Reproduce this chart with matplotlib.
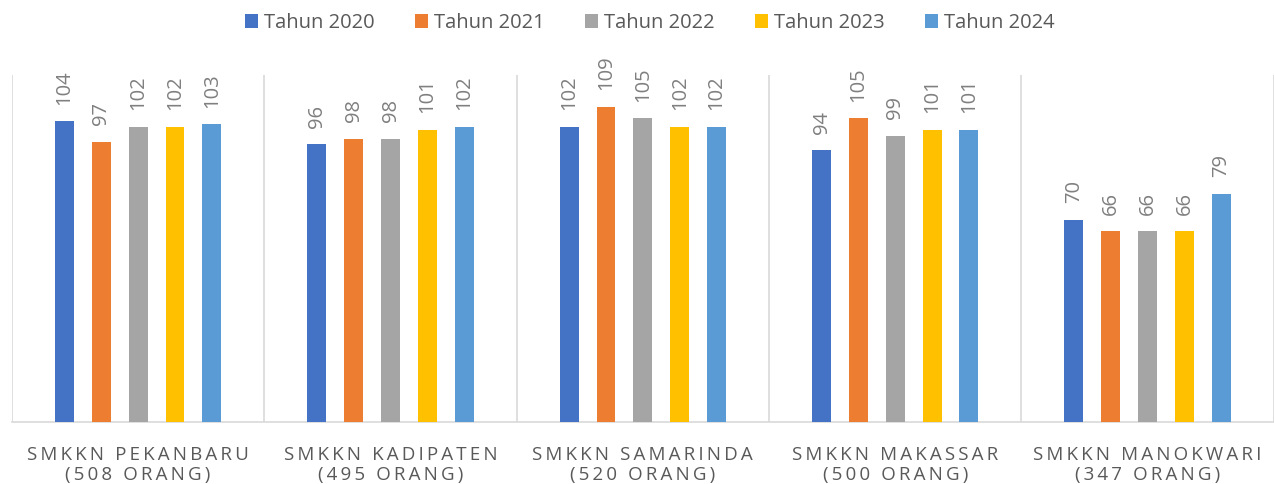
import matplotlib.pyplot as plt
import numpy as np

# data
sekolah = ['SMKKN PEKANBARU\n(508 ORANG)', 'SMKKN KADIPATEN\n(495 ORANG)',
           'SMKKN SAMARINDA\n(520 ORANG)', 'SMKKN MAKASSAR\n(500 ORANG)',
           'SMKKN MANOKWARI\n(347 ORANG)']
tahun = ['Tahun 2020', 'Tahun 2021', 'Tahun 2022', 'Tahun 2023', 'Tahun 2024']
v2020 = [104, 96, 102, 94, 70]
v2021 = [97, 98, 109, 105, 66]
v2022 = [102, 98, 105, 99, 66]
v2023 = [102, 101, 102, 101, 66]
v2024 = [103, 102, 102, 101, 79]
warna = ['#4472c4', '#ed7d31', '#a5a5a5', '#ffc000', '#5b9bd5']

plt.rcParams['font.family'] = ['Open Sans', 'DejaVu Sans']

def spaced(s):
    # wide letter spacing like the original
    return '\n'.join('\u2009'.join(list(line)) for line in s.split('\n'))

fig = plt.figure(figsize=(12.74, 4.84), dpi=100)
ax = fig.add_axes([0.0094, 0.128, 0.9904, 0.717])

x = np.arange(len(sekolah))
semua = [v2020, v2021, v2022, v2023, v2024]
w = 0.075
step = 0.146
for i, vals in enumerate(semua):
    pos = x + (i - 2) * step
    bars = ax.bar(pos, vals, width=w, color=warna[i], label=tahun[i], zorder=3)
    for b, v in zip(bars, vals):
        ax.annotate(str(v), (b.get_x() + b.get_width() / 2, v), xytext=(0, 12),
                    textcoords='offset points', rotation=90, ha='center', va='bottom',
                    fontsize=14.5, color='#7f7f7f')

ax.set_xlim(-0.5, len(sekolah) - 0.5)
ax.set_ylim(0, 120)
ax.set_yticks([])
for k in range(len(sekolah) + 1):
    ax.axvline(k - 0.5, color='#d9d9d9', lw=1.2, zorder=1)
for s in ['top', 'left', 'right']:
    ax.spines[s].set_visible(False)
ax.spines['bottom'].set_color('#d9d9d9')
ax.spines['bottom'].set_linewidth(1.2)
ax.set_xticks(x)
ax.set_xticklabels([spaced(s) for s in sekolah], fontsize=13.5, color='#595959', linespacing=1.2)
ax.tick_params(axis='x', length=0, pad=17)

fig.legend(loc='upper center', bbox_to_anchor=(0.51, 1.01), ncol=5, frameon=False,
           fontsize=14.5, handlelength=0.65, handleheight=0.7, handletextpad=0.3,
           columnspacing=2.0, labelcolor='#595959')

fig.savefig('out.png', dpi=100)
